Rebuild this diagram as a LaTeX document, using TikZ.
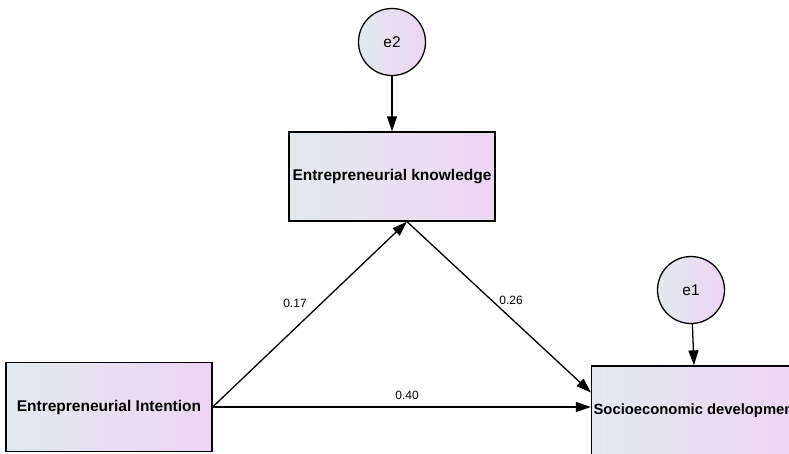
\documentclass[tikz,border=0pt]{standalone}
\usepackage{fontspec}
\setmainfont{Liberation Sans}
\usepackage{tikz}
\usetikzlibrary{arrows.meta, positioning, shapes.geometric}

\definecolor{shadeL}{HTML}{E2EAEE}
\definecolor{shadeR}{HTML}{EDD4F3}

\begin{document}
\begin{tikzpicture}[
  x=1pt, y=-1pt,
  vbox/.style={draw, line width=1.3pt, left color=shadeL, right color=shadeR,
               minimum width=206pt, minimum height=89pt, inner sep=2pt,
               font=\fontsize{15.5}{18}\selectfont\bfseries, align=center},
  errc/.style={draw, circle, line width=1.3pt, left color=shadeL, right color=shadeR,
               minimum size=67pt, inner sep=0pt,
               font=\fontsize{15.5}{18}\selectfont},
  coef/.style={font=\fontsize{12}{14}\selectfont},
  arr/.style={-{Triangle[length=15pt, width=10pt]}, line width=1.3pt},
]
\useasboundingbox (0,0) rectangle (789,453);

% --- Observed variables ---
\node[vbox] (EI) at (109, 407)   {Entrepreneurial Intention};
\node[vbox] (EK) at (392, 176.5) {Entrepreneurial knowledge};
\node[vbox, font=\fontsize{14.8}{18}\selectfont\bfseries]
  (SD) at (696, 410.5) {Socioeconomic development};

% --- Error terms ---
\node[errc] (e2) at (392, 42)  {e2};
\node[errc] (e1) at (691, 290) {e1};

% --- Paths ---
\coordinate (EKb) at ([xshift=15pt]EK.south);
\draw[arr] (e2) -- (EK);
\draw[arr] (e1) -- ([xshift=-2pt]SD.north);
\draw[arr] (EI.east) -- (EKb);
\draw[arr] (EKb) -- ([yshift=18pt]SD.west);
\draw[arr] (EI.east) -- (SD.west |- EI.east);

% --- Coefficients ---
\node[coef] (c17) at (295, 303) {0.17};
\node[coef] (c26) at (511, 300) {0.26};
\node[coef] (c40) at (407, 395) {0.40};
\end{tikzpicture}
\end{document}
